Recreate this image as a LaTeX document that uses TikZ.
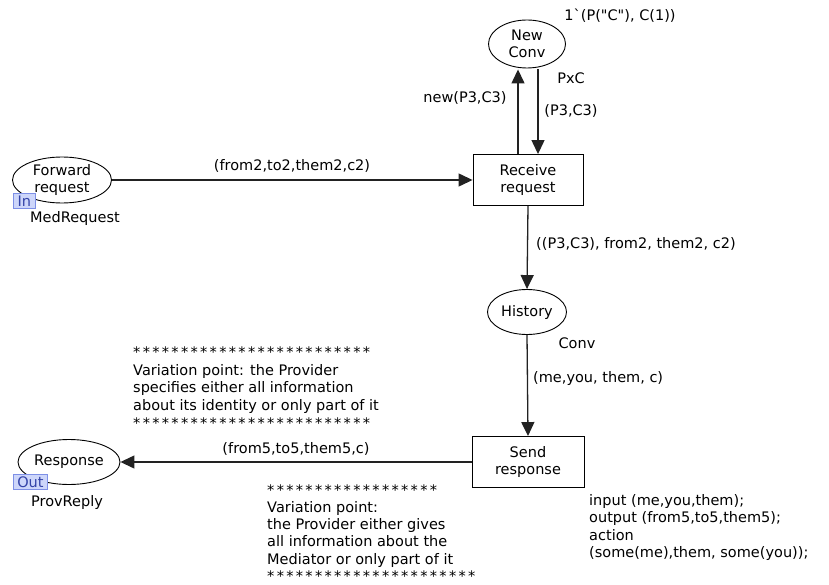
\documentclass[tikz,border=0pt]{standalone}
\usepackage{fontspec}
\setmainfont{DejaVu Sans}
\newfontfamily\starfont[LetterSpace=16]{DejaVu Sans}
\usetikzlibrary{shapes.geometric,arrows.meta}
\definecolor{arcgray}{HTML}{222222}
\definecolor{tagfill}{HTML}{CDD6FA}
\definecolor{tagdraw}{HTML}{7D8FE6}
\definecolor{tagtext}{HTML}{3343A8}
\tikzset{
  every node/.style={font=\fontsize{14.5}{17.6}\selectfont},
  place/.style={ellipse, draw=black, line width=0.9pt, inner sep=0pt, align=center, fill=white},
  trans/.style={rectangle, draw=black, line width=0.9pt, inner sep=0pt, align=center, fill=white},
  arc/.style={draw=arcgray, line width=1.3pt, -{Triangle[length=14pt,width=13pt]}},
  lbl/.style={inner sep=0pt},
  note/.style={inner sep=0pt, align=left, anchor=west},
  tag/.style={rectangle, draw=tagdraw, fill=tagfill, line width=0.8pt, inner sep=1pt,
    text=tagtext, anchor=north west, minimum height=15pt},
}
\begin{document}
\begin{tikzpicture}[x=1pt,y=-1pt]
\useasboundingbox (0,0) rectangle (829,585);

% places and transitions
\node[place, minimum width=77pt, minimum height=48pt] (newconv) at (527,44) {New\\Conv};
\node[trans, minimum width=110pt, minimum height=51pt] (recv) at (528,180) {Receive\\request};
\node[place, minimum width=99pt, minimum height=46pt] (fwd) at (62,180) {Forward\\request};
\node[place, minimum width=79pt, minimum height=45pt] (hist) at (527,312) {History};
\node[trans, minimum width=112pt, minimum height=51pt] (send) at (528,462) {Send\\response};
\node[place, minimum width=102pt, minimum height=45pt] (resp) at (69,462) {Response};

% port tags
\node[tag, minimum width=22pt] (intag) at (13,193) {In};
\node[tag, minimum width=34pt] (outtag) at (13,474) {Out};

% arcs
\draw[arc] ([xshift=-10pt]recv.north) -- ([xshift=-10pt,yshift=-1pt]recv.north |- newconv.south);
\draw[arc] ([xshift=10pt,yshift=-1pt]recv.north |- newconv.south) -- ([xshift=10pt]recv.north);
\draw[arc] (fwd.east) -- (recv.west);
\draw[arc] (recv.south) -- (hist.north);
\draw[arc] (hist.south) -- (send.north);
\draw[arc] (send.west) -- (resp.east);

% inscriptions
\node[lbl] (initmark) at (620,16) {1\textasciigrave(P(\textquotedbl C\textquotedbl), C(1))};
\node[lbl] (pxc) at (571,78) {PxC};
\node[lbl] (newlbl) at (465,98) {new(P3,C3)};
\node[lbl] (p3lbl) at (571,111) {(P3,C3)};
\node[lbl] (fwdlbl) at (292,166) {(from2,to2,them2,c2)};
\node[lbl] (medreq) at (75,219) {MedRequest};
\node[lbl] (histin) at (636,244) {((P3,C3), from2, them2, c2)};
\node[lbl] (convt) at (577,343) {Conv};
\node[lbl, anchor=west] (histout) at (533,378) {(me,you, them, c)};
\node[lbl] (resplbl) at (296,449) {(from5,to5,them5,c)};
\node[lbl] (provrep) at (67,502) {ProvReply};

% comments and code segment
\node[note] (note1) at (133,387.5) {{\starfont *************************}\\
Variation point: the Provider\\
specifies either all information\\
about its identity or only part of it\\
{\starfont *************************}};
\node[note, font=\fontsize{14.5}{17.2}\selectfont] (note2) at (267,533) {{\starfont ******************}\\
Variation point:\\
the Provider either gives\\
all information about the\\
Mediator or only part of it\\
{\starfont **********************}};
\node[note] (code) at (589,527.5) {input (me,you,them);\\
output (from5,to5,them5);\\
action\\
(some(me),them, some(you));};
\end{tikzpicture}
\end{document}
